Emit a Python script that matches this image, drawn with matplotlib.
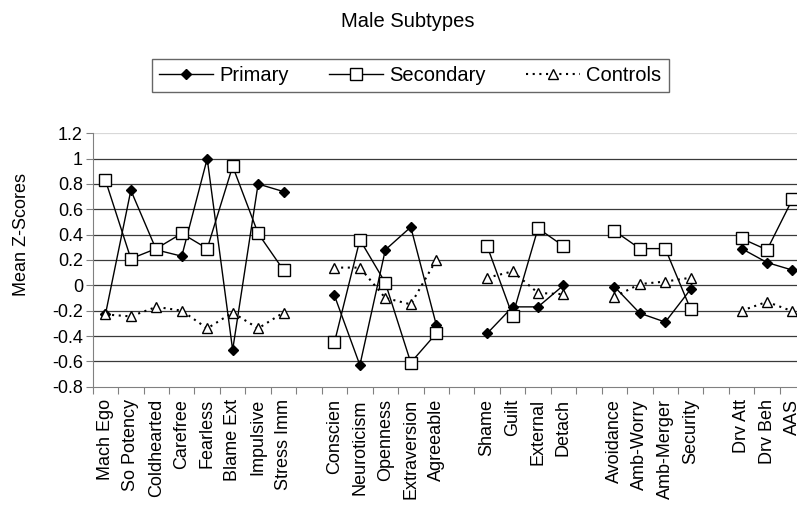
import numpy as np
import matplotlib
matplotlib.use('Agg')
import matplotlib.pyplot as plt

plt.rcParams['font.family'] = ['Liberation Sans', 'DejaVu Sans']

# category labels, '' marks the gap between groups
categories = ['Mach Ego', 'So Potency', 'Coldhearted', 'Carefree', 'Fearless',
              'Blame Ext', 'Impulsive', 'Stress Imm', '',
              'Conscien', 'Neuroticism', 'Openness', 'Extraversion', 'Agreeable', '',
              'Shame', 'Guilt', 'External', 'Detach', '',
              'Avoidance', 'Amb-Worry', 'Amb-Merger', 'Security', '',
              'Drv Att', 'Drv Beh', 'AAS']

nan = np.nan
primary = [-0.23, 0.75, 0.28, 0.23, 1.00, -0.51, 0.80, 0.74, nan,
           -0.08, -0.63, 0.28, 0.46, -0.31, nan,
           -0.38, -0.17, -0.17, 0.00, nan,
           -0.01, -0.22, -0.29, -0.03, nan,
           0.29, 0.18, 0.12]
secondary = [0.83, 0.21, 0.29, 0.41, 0.29, 0.94, 0.41, 0.12, nan,
             -0.45, 0.36, 0.02, -0.61, -0.38, nan,
             0.31, -0.24, 0.45, 0.31, nan,
             0.43, 0.29, 0.29, -0.19, nan,
             0.37, 0.28, 0.68]
controls = [-0.23, -0.245, -0.17, -0.20, -0.34, -0.215, -0.34, -0.215, nan,
            0.14, 0.14, -0.10, -0.15, 0.20, nan,
            0.06, 0.11, -0.06, -0.07, nan,
            -0.09, 0.01, 0.03, 0.06, nan,
            -0.20, -0.13, -0.205]

x = np.arange(len(categories)) + 0.5

fig = plt.figure(figsize=(7.97, 5.09), dpi=100)
ax = fig.add_axes([0.1163, 0.2403, 0.894, 0.4978])

ax.plot(x, primary, color='black', lw=1.0, marker='D', markersize=5.5,
        markerfacecolor='black', label='Primary')
ax.plot(x, secondary, color='black', lw=1.0, marker='s', markersize=8,
        markerfacecolor='white', markeredgewidth=1.0, label='Secondary')
ax.plot(x, controls, color='black', lw=1.5, linestyle=(0, (1, 2.2)), marker='^',
        markersize=7.5, markerfacecolor='white', markeredgewidth=1.0,
        label='Controls')

ax.set_xlim(0, len(categories))
ax.set_ylim(-0.8, 1.2)
ax.set_yticks(np.arange(-0.8, 1.21, 0.2))
ax.set_yticklabels(['-0.8', '-0.6', '-0.4', '-0.2', '0', '0.2', '0.4', '0.6', '0.8', '1', '1.2'])
ax.tick_params(axis='y', labelsize=13, length=5, color='#808080', direction='out', pad=2)

# tick marks between categories, labels at centres
ax.set_xticks(np.arange(0, len(categories) + 1))
ax.set_xticklabels([])
ax.set_xticks(x, minor=True)
ax.set_xticklabels(categories, minor=True, rotation=90, fontsize=13)
ax.tick_params(axis='x', which='major', length=5, color='#808080', direction='out')
ax.tick_params(axis='x', which='minor', length=0, pad=9)

ax.grid(axis='y', color='#3a3a3a', lw=0.9)
ax.set_axisbelow(True)
gl = ax.get_ygridlines()
gl[0].set_visible(False)
gl[-1].set_color('#d8d8d8')

for s in ['top', 'right']:
    ax.spines[s].set_visible(False)
ax.spines['left'].set_color('#808080')
ax.spines['bottom'].set_color('#808080')

ax.set_ylabel('Mean Z-Scores', fontsize=13)
ax.yaxis.set_label_coords(-0.088, 0.6)

fig.text(0.512, 0.958, 'Male Subtypes', ha='center', va='center', fontsize=14.5)

leg = fig.legend(loc='center', bbox_to_anchor=(0.5145, 0.8508), ncol=3, fontsize=14.5,
                 frameon=True, fancybox=False, edgecolor='#404040',
                 handlelength=2.7, columnspacing=2.0, handletextpad=0.3,
                 borderpad=0.35)
leg.get_frame().set_linewidth(1.0)

fig.savefig('out.png', dpi=100)
